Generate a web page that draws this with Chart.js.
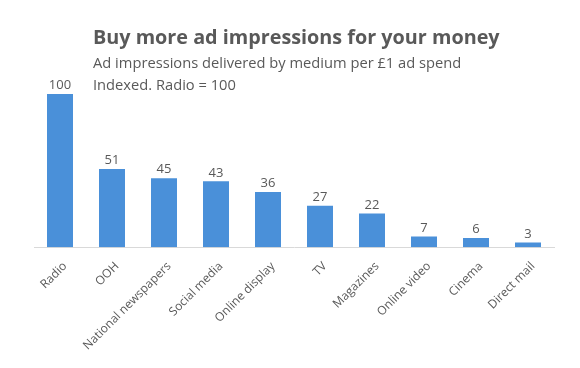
<!DOCTYPE html>
<html lang="en">
<head>
<meta charset="UTF-8">
<title>Buy more ad impressions for your money</title>
<script src="https://cdn.jsdelivr.net/npm/chart.js"></script>
<style>
  html, body { margin: 0; padding: 0; background: #fff; }
  .wrap { position: relative; width: 580px; height: 368px; }
  .titres { position: absolute; left: 93px; top: 23px; color: #595959; font-family: "Open Sans", sans-serif; }
  .titres h1 { margin: 0; font-size: 19.8px; font-weight: bold; line-height: 28px; }
  .titres p { margin: 0; font-size: 14.7px; line-height: 22px; }
  canvas { position: absolute; left: 0; top: 0; }
</style>
</head>
<body>
<div class="wrap">
  <canvas id="graphique" width="580" height="368"></canvas>
  <div class="titres">
    <h1>Buy more ad impressions for your money</h1>
    <p>Ad impressions delivered by medium per £1 ad spend</p>
    <p>Indexed. Radio = 100</p>
  </div>
</div>

<script>
const categories = ['Radio', 'OOH', 'National newspapers', 'Social media', 'Online display', 'TV', 'Magazines', 'Online video', 'Cinema', 'Direct mail'];
const valeurs = [100, 51, 45, 43, 36, 27, 22, 7, 6, 3];

// étiquettes de valeur au-dessus des barres
const etiquettes = {
  id: 'etiquettes',
  afterDatasetsDraw(chart) {
    const ctx = chart.ctx;
    const meta = chart.getDatasetMeta(0);
    ctx.save();
    ctx.font = '13px "Open Sans", sans-serif';
    ctx.fillStyle = '#595959';
    ctx.textAlign = 'center';
    ctx.textBaseline = 'bottom';
    meta.data.forEach((barre, i) => {
      ctx.fillText(valeurs[i], barre.x, barre.y - 2);
    });
    ctx.restore();
  }
};

new Chart(document.getElementById('graphique').getContext('2d'), {
  type: 'bar',
  data: {
    labels: categories,
    datasets: [{
      data: valeurs,
      backgroundColor: '#4a90d9',
      categoryPercentage: 1,
      barPercentage: 0.5
    }]
  },
  options: {
    responsive: false,
    animation: false,
    layout: { padding: { left: 34, right: 26, top: 94, bottom: 3 } },
    plugins: { legend: { display: false }, tooltip: { enabled: false } },
    scales: {
      x: {
        grid: { display: false, drawTicks: false },
        border: { color: '#d9d9d9', width: 1 },
        ticks: {
          color: '#595959',
          font: { family: 'Open Sans', size: 12 },
          maxRotation: 45,
          minRotation: 45,
          padding: 12,
          labelOffset: 5
        }
      },
      y: { display: false, min: 0, max: 100 }
    }
  },
  plugins: [etiquettes]
});
</script>
</body>
</html>
